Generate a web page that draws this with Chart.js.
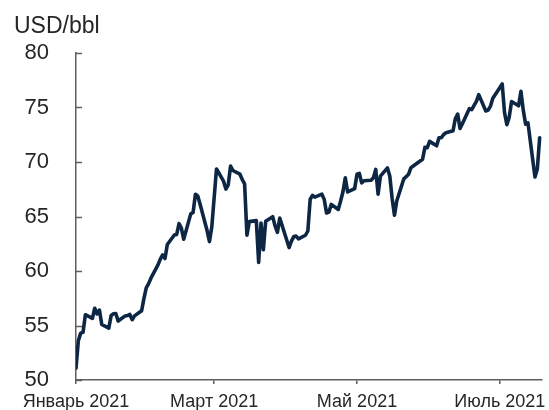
<!DOCTYPE html>
<html>
<head>
<meta charset="utf-8">
<script src="https://cdn.jsdelivr.net/npm/chart.js@4.4.1/dist/chart.umd.min.js"></script>
<style>
  html, body { margin: 0; padding: 0; background: #ffffff; }
</style>
</head>
<body>
<canvas id="c" width="549" height="410"></canvas>
<script>
// Brent crude, daily close, USD per barrel
const dates = [
  '2021-01-04','2021-01-05','2021-01-06','2021-01-07','2021-01-08',
  '2021-01-11','2021-01-12','2021-01-13','2021-01-14','2021-01-15',
  '2021-01-18','2021-01-19','2021-01-20','2021-01-21','2021-01-22',
  '2021-01-25','2021-01-26','2021-01-27','2021-01-28','2021-01-29',
  '2021-02-01','2021-02-02','2021-02-03','2021-02-04','2021-02-05',
  '2021-02-08','2021-02-09','2021-02-10','2021-02-11','2021-02-12',
  '2021-02-15','2021-02-16','2021-02-17','2021-02-18','2021-02-19',
  '2021-02-22','2021-02-23','2021-02-24','2021-02-25','2021-02-26',
  '2021-03-01','2021-03-02','2021-03-03','2021-03-04','2021-03-05',
  '2021-03-08','2021-03-09','2021-03-10','2021-03-11','2021-03-12',
  '2021-03-15','2021-03-16','2021-03-17','2021-03-18','2021-03-19',
  '2021-03-22','2021-03-23','2021-03-24','2021-03-25','2021-03-26',
  '2021-03-29','2021-03-30','2021-03-31','2021-04-01',
  '2021-04-05','2021-04-06','2021-04-07','2021-04-08','2021-04-09',
  '2021-04-12','2021-04-13','2021-04-14','2021-04-15','2021-04-16',
  '2021-04-19','2021-04-20','2021-04-21','2021-04-22','2021-04-23',
  '2021-04-26','2021-04-27','2021-04-28','2021-04-29','2021-04-30',
  '2021-05-03','2021-05-04','2021-05-05','2021-05-06','2021-05-07',
  '2021-05-10','2021-05-11','2021-05-12','2021-05-13','2021-05-14',
  '2021-05-17','2021-05-18','2021-05-19','2021-05-20','2021-05-21',
  '2021-05-24','2021-05-25','2021-05-26','2021-05-27','2021-05-28',
  '2021-06-01','2021-06-02','2021-06-03','2021-06-04',
  '2021-06-07','2021-06-08','2021-06-09','2021-06-10','2021-06-11',
  '2021-06-14','2021-06-15','2021-06-16','2021-06-17','2021-06-18',
  '2021-06-21','2021-06-22','2021-06-23','2021-06-24','2021-06-25',
  '2021-06-28','2021-06-29','2021-06-30','2021-07-01','2021-07-02',
  '2021-07-05','2021-07-06','2021-07-07','2021-07-08','2021-07-09',
  '2021-07-12','2021-07-13','2021-07-14','2021-07-15','2021-07-16',
  '2021-07-19','2021-07-20','2021-07-21'
];

const brent = [
  51.09, 53.60, 54.30, 54.38, 55.99,
  55.66, 56.58, 56.06, 56.42, 55.10,
  54.75, 55.90, 56.08, 56.10, 55.41,
  55.88, 55.91, 56.01, 55.53, 55.88,
  56.35, 57.46, 58.46, 58.84, 59.34,
  60.56, 61.09, 61.47, 61.14, 62.43,
  63.30, 63.35, 64.34, 63.93, 62.91,
  65.24, 65.37, 67.04, 66.88, 66.13,
  63.69, 62.70, 64.07, 66.74, 69.36,
  68.24, 67.52, 67.90, 69.63, 69.22,
  68.88, 68.39, 68.00, 63.28, 64.53,
  64.62, 60.79, 64.41, 61.95, 64.57,
  64.98, 64.14, 63.54, 64.86,
  62.15, 62.74, 63.16, 63.20, 62.95,
  63.28, 63.67, 66.58, 66.94, 66.77,
  67.05, 66.57, 65.32, 65.40, 66.11,
  65.65, 66.42, 67.27, 68.56, 67.25,
  67.56, 68.88, 68.96, 68.09, 68.28,
  68.32, 68.55, 69.32, 67.05, 68.71,
  69.46, 68.71, 66.66, 65.11, 66.44,
  68.46, 68.65, 68.87, 69.46, 69.63,
  70.25, 71.35, 71.31, 71.89,
  71.49, 72.22, 72.22, 72.52, 72.69,
  72.86, 73.99, 74.39, 73.08, 73.51,
  74.90, 74.81, 75.19, 75.56, 76.18,
  74.68, 74.76, 75.13, 75.84, 76.17,
  77.16, 74.53, 73.43, 74.12, 75.55,
  75.16, 76.49, 74.76, 73.47, 73.59,
  68.62, 69.35, 72.23
];

// date-axis ticks every two months, counted from the first trading day
const tickDates  = ['2021-01-04', '2021-03-04', '2021-05-04', '2021-07-04'];
const tickLabels = ['Январь 2021', 'Март 2021', 'Май 2021', 'Июль 2021'];
const axisEndDate = '2021-07-22';

const yTicks = [50, 55, 60, 65, 70, 75, 80];
const unitLabel = 'USD/bbl';

const DAY = 86400000;
const t0 = Date.parse(dates[0]);
const dayOf = d => Math.round((Date.parse(d) - t0) / DAY);

const points = dates.map((d, i) => ({ x: dayOf(d), y: brent[i] }));
const tickDays = tickDates.map(dayOf);

const FONT = '"Liberation Sans", Arial, sans-serif';
const AXIS_COLOR = '#5e5e5e';
const TEXT_COLOR = '#262626';

// y ticks point into the plot, and the unit sits above the axis
const decorations = {
  id: 'decorations',
  afterDraw(chart) {
    const { ctx, chartArea } = chart;
    const y = chart.scales.y;
    ctx.save();
    ctx.strokeStyle = AXIS_COLOR;
    ctx.lineWidth = 1.5;
    yTicks.forEach(v => {
      const py = Math.round(y.getPixelForValue(v)) + 0.5;
      ctx.beginPath();
      ctx.moveTo(chartArea.left, py);
      ctx.lineTo(chartArea.left + 6, py);
      ctx.stroke();
    });
    ctx.fillStyle = TEXT_COLOR;
    ctx.font = '23px ' + FONT;
    ctx.textBaseline = 'alphabetic';
    ctx.textAlign = 'left';
    ctx.fillText(unitLabel, 14, 33);
    ctx.restore();
  }
};

new Chart(document.getElementById('c'), {
  type: 'line',
  data: {
    datasets: [{
      data: points,
      borderColor: '#0d2644',
      borderWidth: 3.6,
      borderJoinStyle: 'round',
      borderCapStyle: 'round',
      pointRadius: 0,
      tension: 0,
      fill: false
    }]
  },
  options: {
    responsive: false,
    animation: false,
    events: [],
    layout: { padding: { left: 0, right: 7, top: 53, bottom: 0 } },
    plugins: {
      legend: { display: false },
      tooltip: { enabled: false },
      title: { display: false }
    },
    scales: {
      x: {
        type: 'linear',
        min: 0,
        max: dayOf(axisEndDate),
        afterBuildTicks: scale => { scale.ticks = tickDays.map(v => ({ value: v })); },
        afterFit: scale => {
          scale.height = 30;
          scale.paddingLeft = 0;
          scale.paddingRight = 0;
        },
        grid: {
          drawOnChartArea: false,
          drawTicks: true,
          tickLength: 4,
          color: AXIS_COLOR,
          lineWidth: 1.5
        },
        border: { display: true, color: AXIS_COLOR, width: 1.5 },
        ticks: {
          autoSkip: false,
          maxRotation: 0,
          padding: 7,
          color: TEXT_COLOR,
          font: { family: FONT, size: 18 },
          callback: v => tickLabels[tickDays.indexOf(v)]
        }
      },
      y: {
        min: 50,
        max: 80,
        afterBuildTicks: scale => { scale.ticks = yTicks.map(v => ({ value: v })); },
        afterFit: scale => {
          scale.width = 76;
          scale.paddingTop = 0;
          scale.paddingBottom = 0;
        },
        grid: { drawOnChartArea: false, drawTicks: false },
        border: { display: true, color: AXIS_COLOR, width: 1.5 },
        ticks: {
          padding: 27,
          color: TEXT_COLOR,
          font: { family: FONT, size: 22 },
          callback: v => String(v)
        }
      }
    }
  },
  plugins: [decorations]
});
</script>
</body>
</html>
